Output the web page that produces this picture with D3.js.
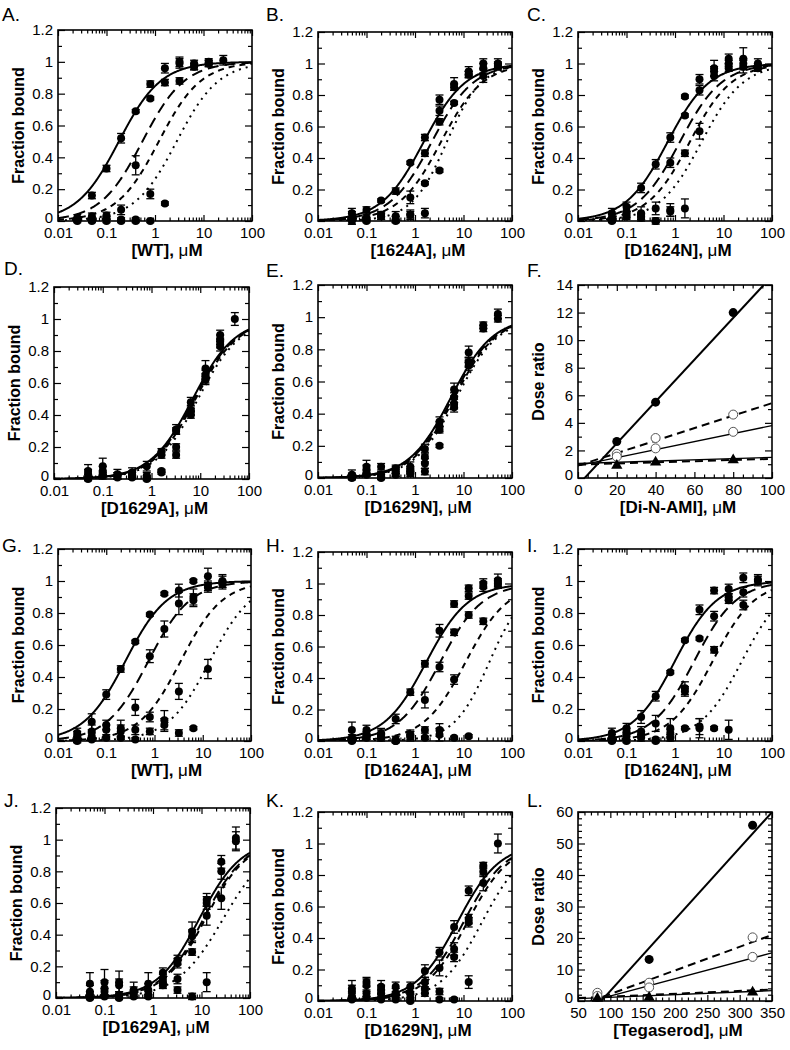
<!DOCTYPE html>
<html><head><meta charset="utf-8">
<script src="https://cdn.jsdelivr.net/npm/d3@7"></script>
<style>
body{margin:0;background:#fff}
svg text{font-family:"Liberation Sans", Arial, Helvetica, sans-serif;fill:#000}
</style></head><body>
<svg id="chart" width="790" height="1050"></svg>
<script>
// ---------------- DATA ----------------
const concWT  = [0.025,0.05,0.1,0.2,0.4,0.8,1.6,3.2,6.4,12.8,25.6];
const concMut = [0.05,0.1,0.2,0.4,0.8,1.6,3.2,6.4,12.8,25.6,51.2];
const logMajor = [0.01,0.1,1,10,100];
const fracTicks = [0,0.2,0.4,0.6,0.8,1,1.2];
const fracMinor = [0.1,0.3,0.5,0.7,0.9,1.1];

const valsA = [
 [null,0.16,0.33,0.52,0.69,0.86,0.96,1.0,0.99,1.0,1.01],
 [0.02,0.03,0.035,0.07,0.35,0.77,0.87,0.88,0.97,0.99,null],
 [0.01,0.01,0.02,0.01,0.01,0.17,0.11,0.99,0.97,0.99,null],
 [0.0,0.0,0.0,0.0,0.0,0.0,null,null,null,null,null]];
const errsA = [
 [0,0.02,0.02,0.03,0.01,0.02,0.03,0.03,0.02,0.02,0.03],
 [0.02,0.02,0.02,0.03,0.06,0.01,0.02,0.02,0.02,0.02,0],
 [0.01,0.01,0.01,0.01,0.01,0.03,0.01,0.03,0.02,0.02,0],
 [0.01,0.01,0.01,0.01,0.01,0.01,0,0,0,0,0]];
const ec50A = [0.18,0.55,1.2,2.8];
const hillA = [1,1,1,1];

const valsB = [
 [0.05,0.07,0.13,0.19,0.37,0.53,0.77,0.87,0.95,1.0,1.0],
 [0.02,0.02,0.04,0.03,0.15,0.43,0.70,0.85,0.93,0.97,0.99],
 [0.0,0.01,0.03,0.01,0.04,0.24,0.63,0.75,0.93,0.92,0.98],
 [0.01,0.0,0.03,0.0,0.04,0.05,0.32,null,null,null,null]];
const errsB = [
 [0.03,0.02,0.01,0.02,0.01,0.02,0.03,0.04,0.03,0.03,0.03],
 [0.04,0.02,0.02,0.03,0.04,0.02,0.03,0.02,0.02,0.03,0.02],
 [0.02,0.01,0.02,0.02,0.03,0.01,0.02,0.01,0.02,0.04,0.02],
 [0.01,0.01,0.02,0.01,0.02,0.03,0.01,0,0,0,0]];
const ec50B = [1.5,2.2,3.4,4.5];
const hillB = [1,1,1,1.2];

const valsC = [
 [0.05,0.09,0.21,0.36,0.53,0.79,0.90,0.97,1.03,1.03,1.0],
 [0.02,0.06,0.05,0.08,0.37,0.67,0.83,0.92,0.97,0.98,0.98],
 [0.01,0.04,0.03,0.0,0.06,0.43,0.57,0.95,1.0,1.0,0.97],
 [0.0,0.03,0.02,0.0,0.07,0.08,null,null,null,null,null]];
const errsC = [
 [0.03,0.03,0.03,0.03,0.03,0.01,0.03,0.05,0.03,0.07,0.03],
 [0.02,0.04,0.04,0.04,0.03,0.01,0.03,0.03,0.02,0.04,0.02],
 [0.01,0.02,0.02,0.02,0.03,0.02,0.05,0.03,0.02,0.03,0.02],
 [0.01,0.02,0.02,0.01,0.04,0.06,0,0,0,0,0]];
const ec50C = [0.7,1.25,2.0,3.5];
const hillC = [1,1,1,1];

const valsD = [
 [0.05,0.08,0.03,0.04,0.08,0.17,0.31,0.48,0.69,0.90,1.0],
 [0.03,0.05,0.02,0.03,0.02,0.15,0.30,0.43,0.65,0.87,null],
 [0.01,0.03,0.02,0.02,0.01,0.05,0.20,0.42,0.63,0.85,null],
 [0.0,0.02,0.01,0.01,0.0,0.04,0.15,0.40,0.62,0.83,null]];
const errsD = [
 [0.04,0.05,0.03,0.03,0.03,0.02,0.03,0.03,0.05,0.03,0.04],
 [0.03,0.03,0.02,0.02,0.02,0.02,0.02,0.03,0.03,0.03,0],
 [0.02,0.02,0.02,0.02,0.01,0.01,0.02,0.02,0.03,0.03,0],
 [0.01,0.02,0.01,0.01,0.01,0.01,0.02,0.02,0.03,0.03,0]];
const ec50D = [7,7.5,8,9];
const hillD = [1,1,1,1];

const valsE = [
 [0.02,0.07,0.07,0.06,0.07,0.18,0.35,0.55,0.78,0.95,1.02],
 [0.01,0.05,0.02,0.05,0.05,0.13,0.32,0.50,0.72,0.93,0.99],
 [0.0,0.03,0.01,0.03,0.04,0.09,0.30,0.46,0.70,null,null],
 [0.01,0.02,0.0,0.02,0.03,0.04,0.20,0.44,0.72,null,null]];
const errsE = [
 [0.03,0.04,0.02,0.02,0.03,0.03,0.03,0.04,0.04,0.02,0.03],
 [0.02,0.03,0.02,0.02,0.02,0.03,0.03,0.03,0.03,0.02,0.02],
 [0.01,0.02,0.01,0.02,0.02,0.03,0.02,0.03,0.03,0,0],
 [0.01,0.01,0.01,0.01,0.02,0.02,0.01,0.03,0.03,0,0]];
const ec50E = [5.5,6,6.5,7.2];
const hillE = [1,1,1,1];

const valsG = [
 [0.05,0.12,0.29,0.45,0.62,0.79,0.92,0.94,1.0,1.03,0.99],
 [0.03,0.06,0.10,0.06,0.21,0.53,0.70,0.86,0.90,0.97,1.0],
 [0.01,0.03,0.07,0.08,0.07,0.15,0.13,0.31,0.88,0.96,0.98],
 [0.0,0.01,0.02,0.02,0.01,0.06,0.10,0.05,0.08,0.45,null]];
const errsG = [
 [0.03,0.05,0.03,0.02,0.01,0.01,0.01,0.04,0.01,0.05,0.04],
 [0.03,0.04,0.03,0.04,0.05,0.04,0.05,0.07,0.05,0.03,0.04],
 [0.02,0.02,0.03,0.05,0.03,0.03,0.06,0.05,0.04,0.03,0.02],
 [0.01,0.01,0.01,0.01,0.01,0.02,0.04,0.02,0.01,0.06,0]];
const ec50G = [0.25,0.75,3.5,14];
const hillG = [1,1,1,1];

const valsH = [
 [0.07,0.07,0.04,0.14,0.31,0.49,0.70,0.87,0.97,1.0,1.02],
 [0.02,0.04,0.03,0.01,0.03,0.26,0.47,0.69,0.92,0.98,1.0],
 [0.01,0.02,0.02,0.0,0.04,0.07,0.07,0.39,0.80,0.76,0.99],
 [0.0,0.03,0.05,0.0,0.04,0.02,0.04,0.02,0.03,null,null]];
const errsH = [
 [0.05,0.03,0.03,0.03,0.02,0.02,0.04,0.02,0.02,0.03,0.04],
 [0.02,0.02,0.02,0.02,0.03,0.05,0.03,0.02,0.02,0.03,0.03],
 [0.01,0.01,0.02,0.01,0.03,0.02,0.04,0.03,0.02,0.02,0.02],
 [0.01,0.02,0.03,0.01,0.02,0.01,0.04,0.01,0.01,0,0]];
const ec50H = [1.7,3.3,11,34];
const hillH = [1,1,1,1.2];

const valsI = [
 [0.05,0.08,0.15,0.28,0.43,0.63,0.82,0.94,0.95,1.02,1.01],
 [0.02,0.06,0.06,0.11,0.08,0.33,0.64,0.78,0.88,0.93,1.0],
 [0.01,0.03,0.04,0.01,0.05,0.31,0.09,0.57,0.90,0.85,null],
 [0.0,0.0,0.02,0.0,0.02,0.08,0.08,0.08,0.07,null,null]];
const errsI = [
 [0.03,0.03,0.04,0.03,0.01,0.01,0.03,0.02,0.03,0.03,0.03],
 [0.02,0.02,0.03,0.05,0.06,0.04,0.01,0.03,0.02,0.03,0.03],
 [0.01,0.02,0.02,0.01,0.02,0.03,0.05,0.02,0.02,0.03,0],
 [0.01,0.01,0.02,0.01,0.02,0.01,0.06,0.01,0.06,0,0]];
const ec50I = [1.0,2.5,6,24];
const hillI = [1,1,1,1];

const valsJ = [
 [0.09,0.10,0.10,0.05,0.09,0.16,0.24,0.42,0.62,0.86,1.01],
 [0.04,0.06,0.08,0.04,0.05,0.12,0.22,0.39,0.60,0.80,0.99],
 [0.02,0.04,0.02,0.03,0.02,0.10,0.12,0.29,0.52,0.63,null],
 [0.0,0.01,0.0,0.01,0.01,0.08,0.05,0.01,0.10,null,null]];
const errsJ = [
 [0.07,0.08,0.07,0.05,0.07,0.03,0.03,0.06,0.04,0.04,0.07],
 [0.04,0.05,0.04,0.03,0.04,0.03,0.03,0.04,0.04,0.05,0.06],
 [0.02,0.02,0.02,0.02,0.02,0.03,0.03,0.02,0.06,0.07,0],
 [0.01,0.01,0.01,0.01,0.01,0.02,0.02,0.02,0.06,0,0]];
const ec50J = [9,11,12,28];
const hillJ = [1,1,1,0.9];

const valsK = [
 [0.08,0.12,0.09,0.09,0.09,0.19,0.31,0.47,0.70,0.86,1.0],
 [0.06,0.10,0.07,0.05,0.05,0.12,0.21,0.33,0.52,0.82,null],
 [0.03,0.05,0.05,0.03,0.02,0.08,0.06,0.28,0.50,0.75,null],
 [0.01,0.02,0.01,0.01,0.0,0.05,0.01,0.01,0.12,null,null]];
const errsK = [
 [0.05,0.03,0.04,0.03,0.03,0.04,0.03,0.04,0.03,0.02,0.06],
 [0.04,0.04,0.03,0.03,0.03,0.03,0.05,0.04,0.03,0.03,0],
 [0.02,0.02,0.02,0.02,0.02,0.03,0.02,0.03,0.03,0.05,0],
 [0.01,0.01,0.01,0.01,0.01,0.02,0.01,0.01,0.04,0,0]];
const ec50K = [7.5,10,12,24];
const hillK = [1,1,1,1];

// Dose-ratio panels
const concF = [20,40,80];
const doseF = [
 [2.65,5.5,12.0],   // filled circles
 [1.75,2.9,4.6],    // open circles (upper)
 [1.55,2.15,3.35],  // open circles (lower)
 [0.9,1.15,1.3]];   // filled triangles
const fitF_intercept = [-0.52,0.9,0.9,1.05,0.97];
const fitF_slope     = [0.1517,0.0453,0.029,0.0045,0.0042];
const ticksF_x = [0,20,40,60,80,100];
const ticksF_y = [0,2,4,6,8,10,12,14];

const concL = [80,160,320];
const doseL = [
 [1.2,13.2,55.8],
 [2.6,5.8,20.2],
 [1.6,4.3,14.0],
 [0.8,1.1,2.8]];
const fitL_intercept = [-19.5,-5.3,-3.9,0.3,0.5];
const fitL_slope     = [0.227,0.075,0.0548,0.0085,0.009];
const ticksL_x = [50,100,150,200,250,300,350];
const ticksL_y = [0,10,20,30,40,50,60];

// ---------------- LAYOUT ----------------
const boxes = {A:[58,30,194,191],B:[318,32,194,189],C:[578,32,194,189],
  D:[54,287,195,192],E:[318,285,194,193],F:[578,285,194,193],
  G:[58,549,193,192],H:[318,552,194,189],I:[578,549,194,192],
  J:[56,808,194,190],K:[318,812,194,189],L:[578,812,194,189]};
const letterPos = {A:[2,21],B:[266,21],C:[527,21],D:[4,275],E:[266,277],F:[527,277],
  G:[2,552],H:[266,552],I:[527,552],J:[4,807],K:[266,807],L:[527,807]};

const bindingPanels = [
 {id:"A",conc:concWT,vals:valsA,errs:errsA,ec50:ec50A,hill:hillA,name:"[WT]",dx:12},
 {id:"B",conc:concMut,vals:valsB,errs:errsB,ec50:ec50B,hill:hillB,name:"[1624A]",dx:3},
 {id:"C",conc:concMut,vals:valsC,errs:errsC,ec50:ec50C,hill:hillC,name:"[D1624N]",dx:3},
 {id:"D",conc:concMut,vals:valsD,errs:errsD,ec50:ec50D,hill:hillD,name:"[D1629A]",dx:3},
 {id:"E",conc:concMut,vals:valsE,errs:errsE,ec50:ec50E,hill:hillE,name:"[D1629N]",dx:3},
 {id:"G",conc:concWT,vals:valsG,errs:errsG,ec50:ec50G,hill:hillG,name:"[WT]",dx:12},
 {id:"H",conc:concMut,vals:valsH,errs:errsH,ec50:ec50H,hill:hillH,name:"[D1624A]",dx:3},
 {id:"I",conc:concMut,vals:valsI,errs:errsI,ec50:ec50I,hill:hillI,name:"[D1624N]",dx:3},
 {id:"J",conc:concMut,vals:valsJ,errs:errsJ,ec50:ec50J,hill:hillJ,name:"[D1629A]",dx:3},
 {id:"K",conc:concMut,vals:valsK,errs:errsK,ec50:ec50K,hill:hillK,name:"[D1629N]",dx:3}
];

const svg = d3.select("#chart");
const FONT = '"Liberation Sans", Arial, Helvetica, sans-serif';
const curveDash = [null,"11,6","6,5","2,5"];

function styleAxis(s){
  s.select(".domain").remove();
  s.attr("font-family",FONT).attr("font-size",15);
  s.selectAll("line").attr("stroke","#000").attr("stroke-width",1.2);
  s.selectAll("text").attr("fill","#000");
}

function axesAndFrame(g,x,y,w,h,xMaj,xMin,yMaj,yMin,xFmt,yFmt){
  const add = (axis,tr)=>g.append("g").attr("transform",tr).call(axis).call(styleAxis);
  add(d3.axisBottom(x).tickValues(xMaj).tickFormat(xFmt).tickSizeInner(-6).tickSizeOuter(0).tickPadding(6),`translate(0,${h})`);
  add(d3.axisBottom(x).tickValues(xMin).tickFormat("").tickSizeInner(-3.5).tickSizeOuter(0),`translate(0,${h})`);
  add(d3.axisTop(x).tickValues(xMaj).tickFormat("").tickSizeInner(-6).tickSizeOuter(0),`translate(0,0)`);
  add(d3.axisTop(x).tickValues(xMin).tickFormat("").tickSizeInner(-3.5).tickSizeOuter(0),`translate(0,0)`);
  const yl = add(d3.axisLeft(y).tickValues(yMaj).tickFormat(yFmt).tickSizeInner(-7).tickSizeOuter(0).tickPadding(5),`translate(0,0)`);
  // the bottom "0" label sits slightly above the axis corner, as in the reference
  yl.selectAll(".tick text").filter(d=>d===yMaj[0]).attr("dy","0.12em");
  add(d3.axisLeft(y).tickValues(yMin).tickFormat("").tickSizeInner(-4).tickSizeOuter(0),`translate(0,0)`);
  add(d3.axisRight(y).tickValues(yMaj).tickFormat("").tickSizeInner(-7).tickSizeOuter(0),`translate(${w},0)`);
  add(d3.axisRight(y).tickValues(yMin).tickFormat("").tickSizeInner(-4).tickSizeOuter(0),`translate(${w},0)`);
  g.append("rect").attr("width",w).attr("height",h).attr("fill","none").attr("stroke","#000").attr("stroke-width",1.6);
}

function titles(g,id,w,h,yTitle,xName,dx){
  const lp = letterPos[id];
  svg.append("text").attr("x",lp[0]).attr("y",lp[1]).attr("font-size",19).text(id+".");
  g.append("text").attr("transform",`translate(-34,${h/2}) rotate(-90)`).attr("text-anchor","middle")
    .attr("font-size",16).attr("font-weight","bold").text(yTitle);
  const t = g.append("text").attr("x",w/2+dx).attr("y",h+35).attr("text-anchor","middle").attr("font-size",17).attr("font-weight","bold");
  t.append("tspan").text(xName+", ");
  t.append("tspan").attr("font-weight","normal").text("μ");
  t.append("tspan").text("M");
}

// minor log ticks
const logMinor = [];
[0.01,0.1,1,10].forEach(d=>{for(let m=2;m<=9;m++) logMinor.push(d*m);});
const logFmt = d=>String(d);

bindingPanels.forEach(p=>{
  const [bx,by,w,h] = boxes[p.id];
  const g = svg.append("g").attr("transform",`translate(${bx},${by})`);
  const x = d3.scaleLog().domain([0.01,100]).range([0,w]);
  const y = d3.scaleLinear().domain([0,1.2]).range([h,0]);
  const clipId = "clip"+p.id;
  g.append("clipPath").attr("id",clipId).append("rect").attr("width",w).attr("height",h);
  const xs = d3.range(0,401).map(i=>Math.pow(10,-2+4*i/400));
  p.ec50.forEach((k,i)=>{
    const n = p.hill[i];
    const line = d3.line().x(c=>x(c)).y(c=>y(Math.pow(c,n)/(Math.pow(c,n)+Math.pow(k,n))));
    g.append("path").attr("clip-path",`url(#${clipId})`).attr("d",line(xs)).attr("fill","none")
      .attr("stroke","#000").attr("stroke-width",2).attr("stroke-dasharray",curveDash[i]);
  });
  p.vals.forEach((ser,si)=>{
    ser.forEach((v,ci)=>{
      if(v===null) return;
      const e = p.errs[si][ci], cx = x(p.conc[ci]);
      if(e>0){
        g.append("line").attr("x1",cx).attr("x2",cx).attr("y1",y(v-e)).attr("y2",y(v+e)).attr("stroke","#000").attr("stroke-width",1.3);
        [v-e,v+e].forEach(yy=>g.append("line").attr("x1",cx-4).attr("x2",cx+4).attr("y1",y(yy)).attr("y2",y(yy)).attr("stroke","#000").attr("stroke-width",1.3));
      }
      g.append("circle").attr("cx",cx).attr("cy",y(v)).attr("r",4).attr("fill","#000");
    });
  });
  axesAndFrame(g,x,y,w,h,logMajor,logMinor,fracTicks,fracMinor,logFmt,d=>String(d));
  titles(g,p.id,w,h,"Fraction bound",p.name,p.dx);
});

// dose ratio panels
const fitStyle = [{sw:2,dash:null},{sw:2,dash:"8,5"},{sw:1.3,dash:null},{sw:1.3,dash:null},{sw:2,dash:"8,5"}];
function dosePanel(id,conc,dose,icpt,slope,xT,yT,xMinorStep,yMinorStep,xName){
  const [bx,by,w,h] = boxes[id];
  const g = svg.append("g").attr("transform",`translate(${bx},${by})`);
  const x = d3.scaleLinear().domain(d3.extent(xT)).range([0,w]);
  const y = d3.scaleLinear().domain(d3.extent(yT)).range([h,0]);
  const clipId = "clip"+id;
  g.append("clipPath").attr("id",clipId).append("rect").attr("width",w).attr("height",h);
  const xd = x.domain(), yd = y.domain();
  icpt.forEach((a,i)=>{
    const b = slope[i];
    g.append("line").attr("clip-path",`url(#${clipId})`)
      .attr("x1",x(xd[0])).attr("y1",y(a+b*xd[0])).attr("x2",x(xd[1])).attr("y2",y(a+b*xd[1]))
      .attr("stroke","#000").attr("stroke-width",fitStyle[i].sw).attr("stroke-dasharray",fitStyle[i].dash);
  });
  const tri = d3.symbol(d3.symbolTriangle,55);
  dose.forEach((ser,si)=>{
    ser.forEach((v,ci)=>{
      const cx = x(conc[ci]), cy = y(v);
      if(si===0) g.append("circle").attr("cx",cx).attr("cy",cy).attr("r",4.5).attr("fill","#000");
      else if(si===3) g.append("path").attr("d",tri()).attr("transform",`translate(${cx},${cy})`).attr("fill","#000");
      else g.append("circle").attr("cx",cx).attr("cy",cy).attr("r",4.5).attr("fill","#fff").attr("stroke","#555").attr("stroke-width",1);
    });
  });
  const xMin = d3.range(xd[0],xd[1]+0.001,xMinorStep).filter(v=>!xT.includes(v));
  const yMin = d3.range(yd[0],yd[1]+0.001,yMinorStep).filter(v=>!yT.includes(v));
  axesAndFrame(g,x,y,w,h,xT,xMin,yT,yMin,d=>String(d),d=>String(d));
  titles(g,id,w,h,"Dose ratio",xName,3);
}
dosePanel("F",concF,doseF,fitF_intercept,fitF_slope,ticksF_x,ticksF_y,5,1,"[Di-N-AMI]");
dosePanel("L",concL,doseL,fitL_intercept,fitL_slope,ticksL_x,ticksL_y,10,2,"[Tegaserod]");
</script>
</body></html>
